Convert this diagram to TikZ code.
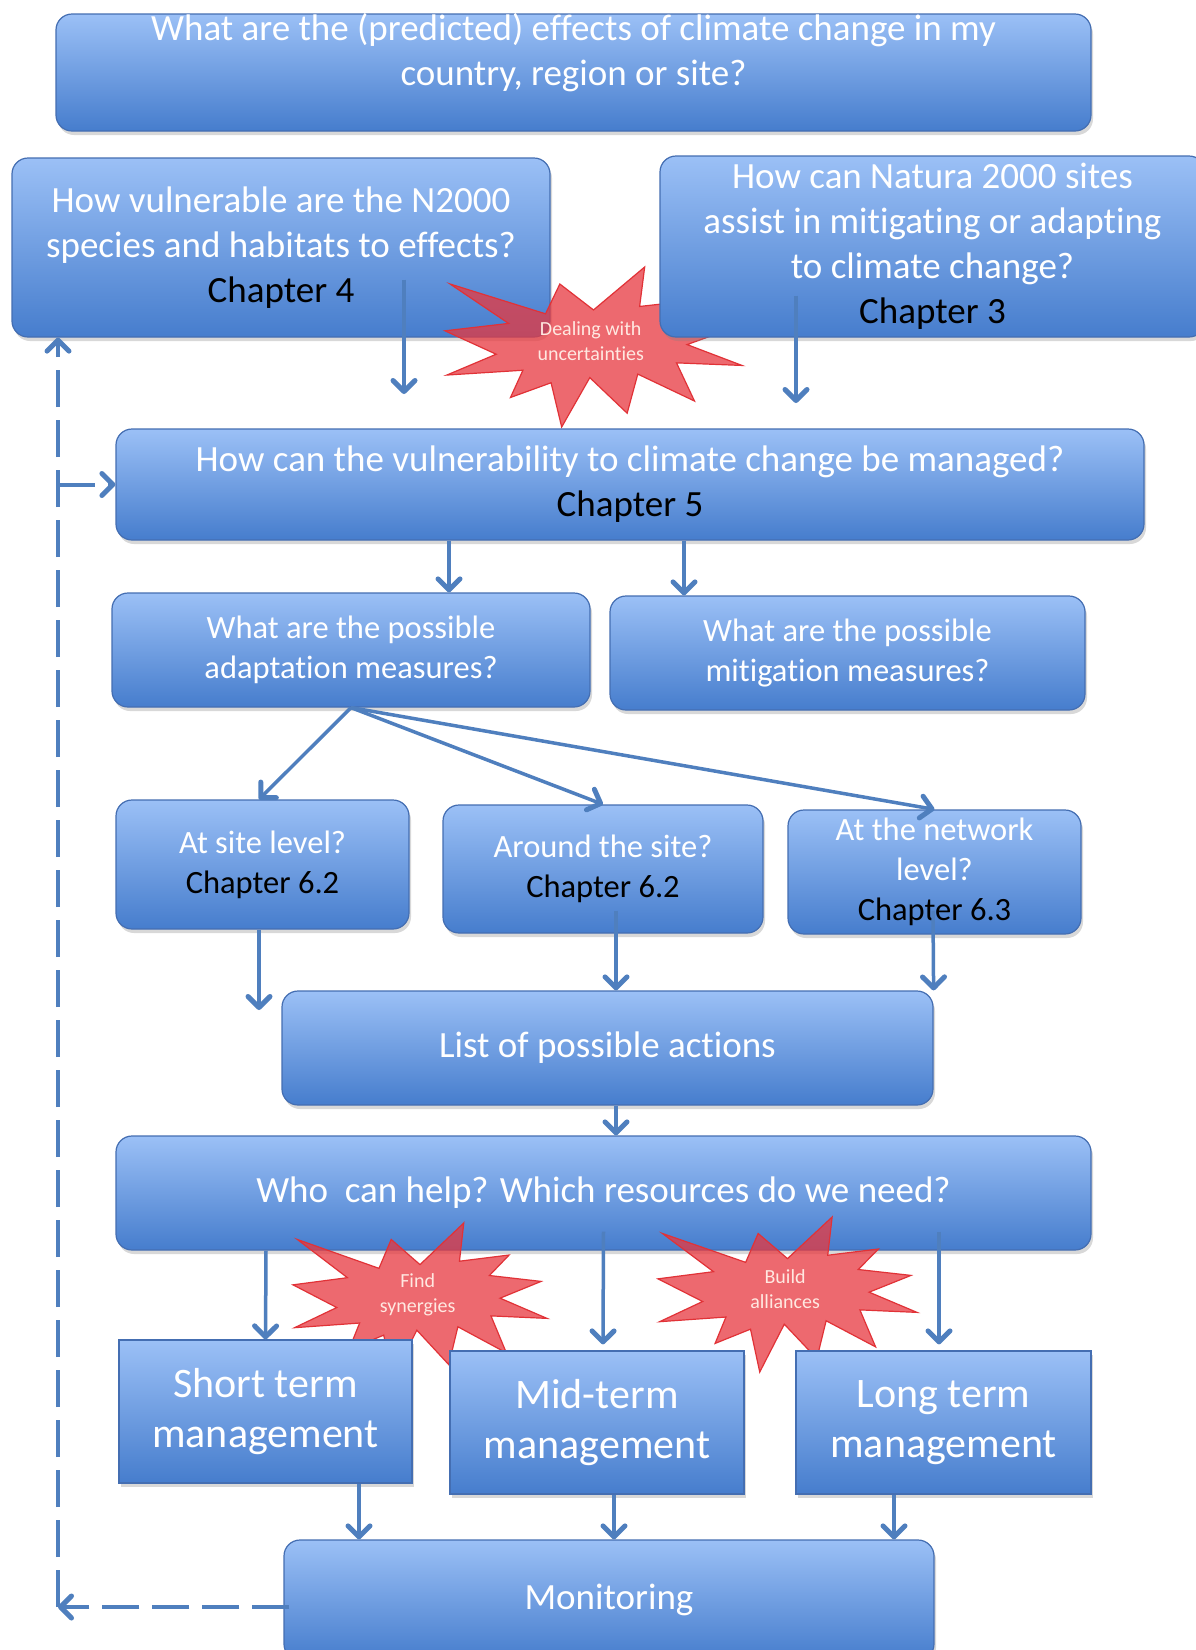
\documentclass[tikz,border=0pt]{standalone}
\usepackage{fontspec}
\setmainfont{Carlito}[Ligatures=NoCommon]
\usepackage{tikz}
\usetikzlibrary{arrows.meta,shadows}

\definecolor{boxtop}{RGB}{155,192,246}
\definecolor{boxbottom}{RGB}{70,125,205}
\definecolor{boxline}{RGB}{68,110,178}
\definecolor{arrowblue}{RGB}{79,127,190}
\definecolor{burstred}{RGB}{232,56,63}
\definecolor{burstline}{RGB}{225,50,55}
\definecolor{bursttext}{RGB}{255,232,225}

\newcommand{\explosion}[6]{%
  \begin{scope}[shift={(#2,#3)},x=#4pt,y=-#5pt]
    \filldraw[burst] (108,58) -- (145.22,0) -- (141.55,53.25) -- (183.8,44.57) -- (167.02,73.15)
      -- (210.97,81.37) -- (176.07,104.75) -- (216,132.9) -- (168.37,129.42) -- (181.45,180.95)
      -- (140.2,144.57) -- (132.47,197.37) -- (105.32,149.35) -- (84.85,216) -- (77.15,156.27)
      -- (47.62,176.17) -- (56.67,139.37) -- (1.35,145.87) -- (37.22,117.75) -- (0,86.15)
      -- (46.27,76.17) -- (3.7,22.95) -- (73.12,63.2) -- (83.52,22.95) -- cycle;
    \node[bursttxt] (#1) at (106,100) {#6};
  \end{scope}}

\begin{document}
\begin{tikzpicture}[x=1pt,y=-1pt,
  box/.style={draw=boxline, line width=1.2pt, top color=boxtop, bottom color=boxbottom,
    rounded corners=16pt, inner sep=0pt, text=white, align=center,
    font=\fontsize{37}{45}\selectfont,
    drop shadow={shadow xshift=2pt, shadow yshift=-4pt, opacity=0.3}},
  sbox/.style={box, font=\fontsize{32.5}{40}\selectfont},
  mbox/.style={box, sharp corners, font=\fontsize{42}{50}\selectfont},
  arr/.style={arrowblue, line width=3.5pt, -{Straight Barb[length=11pt,width=22pt,line width=5pt 0,round]}},
  backarrow/.style={arr, line width=4pt, dash pattern=on 37pt off 13pt},
  burst/.style={fill=burstred, fill opacity=0.75, draw=burstline, line width=1.2pt},
  bursttxt/.style={text=bursttext, font=\fontsize{20}{25}\selectfont, align=center}]
\useasboundingbox[fill=white] (0,0) rectangle (1196,1650);

\node[box, minimum width=1035pt, minimum height=117pt] (effects) at (573.5,72.5) {};
\node[text=white, align=center, font=\fontsize{37}{45}\selectfont] (effectstxt) at (573.5,53)
  {What are the (predicted) effects of climate change in my\\country, region or site?};
\node[box, minimum width=538pt, minimum height=179pt] (vuln) at (281,247.5)
  {How vulnerable are the N2000\\species and habitats to effects?\\\textcolor{black}{Chapter 4}};
\explosion{uncert}{445}{267}{1.375}{0.7407}{Dealing with\\uncertainties}
\node[box, minimum width=545pt, minimum height=181pt] (natura) at (932.5,246.5)
  {How can Natura 2000 sites\\assist in mitigating or adapting\\to climate change?\\\textcolor{black}{Chapter 3}};

\node[box, minimum width=1028pt, minimum height=111pt] (manage) at (630,484.5)
  {How can the vulnerability to climate change be managed?\\\textcolor{black}{Chapter 5}};
\node[sbox, minimum width=478pt, minimum height=114pt] (adapt) at (351,650)
  {What are the possible\\adaptation measures?};
\node[sbox, minimum width=475pt, minimum height=114pt] (mitig) at (847.5,653)
  {What are the possible\\mitigation measures?};
\node[sbox, minimum width=293pt, minimum height=129pt] (site) at (262.5,864.5)
  {At site level?\\\textcolor{black}{Chapter 6.2}};
\node[sbox, minimum width=320pt, minimum height=128pt] (around) at (603,869)
  {Around the site?\\\textcolor{black}{Chapter 6.2}};
\node[sbox, minimum width=293pt, minimum height=124pt] (network) at (934.5,872)
  {At the network\\level?\\\textcolor{black}{Chapter 6.3}};
\node[box, minimum width=651pt, minimum height=114pt] (list) at (607.5,1048)
  {List of possible actions};
\node[box, minimum width=975pt, minimum height=114pt] (who) at (603.5,1193)
  {Who~~can help? Which resources do we need?};

\explosion{synergy}{293}{1223}{1.1759}{0.7176}{Find\\synergies}
\explosion{alliance}{658}{1217}{1.1991}{0.7176}{Build\\alliances}

\node[mbox, minimum width=293pt, minimum height=143pt] (short) at (265.5,1411.5) {Short term\\management};
\node[mbox, minimum width=294pt, minimum height=143pt] (mid) at (597,1422.5) {Mid-term\\management};
\node[mbox, minimum width=295pt, minimum height=143pt] (long) at (943.5,1422.5) {Long term\\management};
\node[box, minimum width=650pt, minimum height=120pt] (monitor) at (609,1600) {Monitoring};

\coordinate (vulnend) at (404,394);
\coordinate (naturaend) at (796,403);
\coordinate (siteend) at (259,1010);
\coordinate (loopc) at (58,1607);
\coordinate (loopb) at (58,484.5);

\draw[arr] ([xshift=123pt,yshift=58pt]vuln.south) -- (vulnend);
\draw[arr] ([xshift=-136.5pt,yshift=42pt]natura.south) -- (naturaend);
\draw[arr] ([xshift=-181pt]manage.south) -- ([xshift=98pt]adapt.north);
\draw[arr] ([xshift=54pt]manage.south) -- ([xshift=-163.5pt]mitig.north);
\draw[arr] (adapt.south) -- ([xshift=-3.5pt]site.north);
\draw[arr] (adapt.south) -- (around.north);
\draw[arr] (adapt.south) -- (network.north);
\draw[arr] ([xshift=-3.5pt]site.south) -- (siteend);
\draw[arr] ([xshift=13pt,yshift=23pt]around.south) -- ([xshift=8.5pt]list.north);
\draw[arr] ([xshift=-1.5pt,yshift=24pt]network.south) -- (list.north east);
\draw[arr] ([xshift=8.5pt]list.south) -- ([xshift=12.5pt]who.north);
\draw[arr] ([xshift=-337.5pt]who.south) -- (short.north);
\draw[arr] ([yshift=19pt]who.south) -- ([xshift=6pt,yshift=6pt]mid.north);
\draw[arr] ([xshift=335.5pt,yshift=19pt]who.south) -- ([xshift=-4.5pt,yshift=6pt]long.north);
\draw[arr] ([xshift=93.5pt]short.south) -- ([xshift=-250pt]monitor.north);
\draw[arr] ([xshift=17pt]mid.south) -- ([xshift=5pt]monitor.north);
\draw[arr] ([xshift=-49.5pt]long.south) -- ([xshift=285pt]monitor.north);

\draw[backarrow] ([xshift=6pt,yshift=-7pt]monitor.west) -- (loopc);
\draw[backarrow] (loopc) -- ([xshift=-223pt]vuln.south);
\draw[backarrow] (loopb) -- (manage.west);
\end{tikzpicture}
\end{document}
